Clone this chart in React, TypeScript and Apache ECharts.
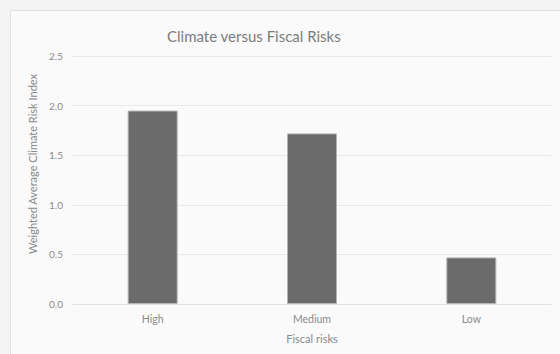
import React, { useEffect, useRef } from "react";
import * as echarts from "echarts";

const categories = ["High", "Medium", "Low"];
const values = [1.95, 1.72, 0.47];
const yTicks = { min: 0, max: 2.5, interval: 0.5 };

const titleText = "Climate versus Fiscal Risks";
const yAxisTitle = "Weighted Average Climate Risk Index";
const xAxisTitle = "Fiscal risks";

const FONT = "Lato, 'Open Sans', sans-serif";

export default function App() {
  const ref = useRef<HTMLDivElement>(null);

  useEffect(() => {
    if (!ref.current) return;
    const chart = echarts.init(ref.current, undefined, { renderer: "svg" });
    chart.setOption({
      animation: false,
      backgroundColor: "#f4f4f4",
      textStyle: { fontFamily: FONT },
      title: {
        text: titleText,
        left: 162,
        top: 23,
        textStyle: { fontFamily: FONT, fontSize: 15, fontWeight: "normal", color: "#7a7a7a" },
      },
      graphic: [
        {
          type: "rect",
          z: -10,
          shape: { x: 10.5, y: 10.5, width: 620, height: 420 },
          style: { fill: "#fafafa", stroke: "#e2e2e2", lineWidth: 1 },
        },
        {
          type: "text",
          x: 32,
          y: 164,
          rotation: Math.PI / 2,
          style: {
            text: yAxisTitle,
            fontFamily: FONT,
            fontSize: 11,
            fill: "#8a8a8a",
            align: "center",
            verticalAlign: "middle",
          },
        },
      ],
      grid: { left: 73, right: 9, top: 56, bottom: 50 },
      xAxis: {
        type: "category",
        data: categories,
        name: xAxisTitle,
        nameLocation: "middle",
        nameGap: 29,
        nameTextStyle: { fontFamily: FONT, fontSize: 11, color: "#8a8a8a" },
        axisLine: { lineStyle: { color: "#e2e2e2" } },
        axisTick: { show: false },
        axisLabel: { margin: 9, fontFamily: FONT, fontSize: 10.5, color: "#8a8a8a" },
      },
      yAxis: {
        type: "value",
        min: yTicks.min,
        max: yTicks.max,
        interval: yTicks.interval,
        axisLine: { show: false },
        axisTick: { show: false },
        splitLine: { lineStyle: { color: "#e8e8e8" } },
        axisLabel: {
          margin: 10,
          fontFamily: FONT,
          fontSize: 10,
          color: "#8a8a8a",
          formatter: (v: number) => v.toFixed(1),
        },
      },
      series: [
        {
          type: "bar",
          data: values,
          barWidth: 50,
          itemStyle: { color: "#6b6b6b", borderColor: "#b4b4b4", borderWidth: 1 },
        },
      ],
    });
    return () => chart.dispose();
  }, []);

  return (
    <div
      ref={ref}
      style={{ position: "fixed", left: 0, top: 0, width: 560, height: 354 }}
    />
  );
}
